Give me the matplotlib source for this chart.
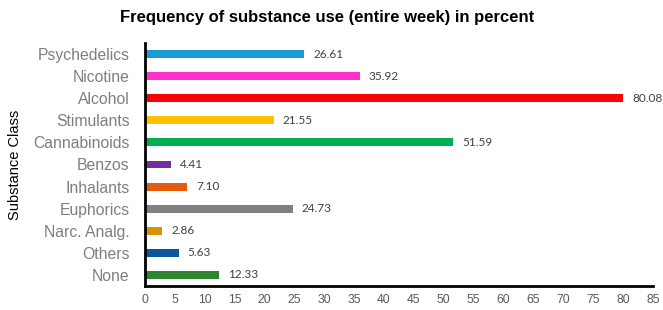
import matplotlib
matplotlib.use("Agg")
import matplotlib.pyplot as plt

categories = ["Psychedelics", "Nicotine", "Alcohol", "Stimulants", "Cannabinoids",
              "Benzos", "Inhalants", "Euphorics", "Narc. Analg.", "Others", "None"]
values = [26.61, 35.92, 80.08, 21.55, 51.59, 4.41, 7.10, 24.73, 2.86, 5.63, 12.33]
colors = ["#1C9AD6", "#FF33CC", "#FF0000", "#FFC000", "#00B050", "#7030A0",
          "#E35B0B", "#808080", "#D6920A", "#0A55A0", "#2E8431"]
xticks = list(range(0, 90, 5))

fig = plt.figure(figsize=(6.63, 3.10), dpi=100)
ax = fig.add_axes([0.2187, 0.0774, 0.766, 0.784])
pos = list(range(len(categories)))[::-1]
ax.barh(pos, values, height=0.36, color=colors)
for p, v in zip(pos, values):
    ax.annotate(f"{v:.2f}", xy=(v, p), xytext=(6.5, 0), textcoords="offset points",
                va="center", ha="left", fontsize=8.5, family="Lato", color="#404040")
ax.set_yticks(pos)
ax.set_yticklabels(categories, fontsize=11.3, family="Liberation Sans", color="#7F7F7F")
ax.set_xticks(xticks)
ax.set_xticklabels([str(t) for t in xticks], fontsize=8.8, family="Liberation Sans", color="#595959")
ax.set_xlim(0, 85)
ax.set_ylim(-0.5, 10.5)
ax.tick_params(axis="y", length=0, pad=11)
ax.tick_params(axis="x", length=0, pad=6)
for s in ["top", "right"]:
    ax.spines[s].set_visible(False)
for s in ["left", "bottom"]:
    ax.spines[s].set_linewidth(2)
    ax.spines[s].set_color("black")
ax.set_ylabel("Substance Class", fontsize=10.5, family="Liberation Sans")
ax.yaxis.set_label_coords(-0.242, 0.5)
fig.text(0.494, 0.942, "Frequency of substance use (entire week) in percent",
         ha="center", va="center", fontsize=12, fontweight="bold", family="Liberation Sans")
fig.savefig("out.png", dpi=100)
